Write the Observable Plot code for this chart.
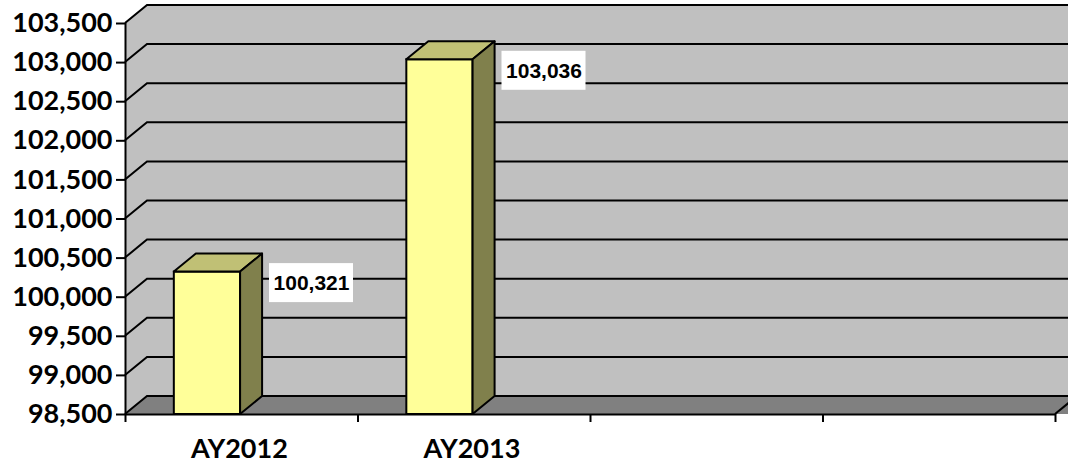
<!DOCTYPE html>
<html><head><meta charset="utf-8">
<script src="https://cdn.jsdelivr.net/npm/d3@7"></script>
<script src="https://cdn.jsdelivr.net/npm/@observablehq/plot@0.6"></script>
<style>
html,body{margin:0;padding:0;background:#fff;overflow:hidden;}
</style></head><body><div id="chart"></div>
<script>
// ---- data ----
const categories = ["AY2012", "AY2013"];
const values = [100321, 103036];
const valueLabels = ["100,321", "103,036"];
const slotTicks = [0, 1, 2, 3, 4];
const yTicks = [98500, 99000, 99500, 100000, 100500, 101000, 101500, 102000, 102500, 103000, 103500];

// ---- styling / geometry ----
const W = 1068, H = 463;
const DX = 22, DY = -18;           // depth offset of the 3D projection (px)
const yMin = 98500, yMax = 103500;
const wallFill = "#c0c0c0", floorFill = "#808080";
const barFront = "#ffff99", barTop = "#c0c075", barSide = "#80804c";
const lw = 2;

const bars = categories.map((c, i) => ({category: c, slot: i, value: values[i], label: valueLabels[i]}));

function shape(draw) {
  return (index, scales, values, dims, context) => {
    const g = d3.create("svg:g");
    draw(g, scales.x, scales.y);
    return g.node();
  };
}
const poly = (pts) => "M" + pts.map(p => p.join(",")).join("L") + "Z";
const path = (pts) => "M" + pts.map(p => p.join(",")).join("L");

const chart = Plot.plot({
  width: W,
  height: H,
  marginLeft: 125,
  marginRight: 13,
  marginTop: 23,
  marginBottom: 49,
  x: {type: "linear", domain: [0, 4]},
  y: {domain: [yMin, yMax]},
  style: {background: "white", color: "black"},
  marks: [
    // walls, floor and gridlines (3D frame)
    shape((g, x, y) => {
      const x0 = x(0), x4 = x(4), yt = y(yMax), yb = y(yMin);
      g.append("path").attr("d", poly([[x0 + DX, yt + DY], [x4 + DX + 20, yt + DY], [x4 + DX + 20, yb + DY], [x0 + DX, yb + DY]]))
        .attr("fill", wallFill);
      g.append("path").attr("d", poly([[x0, yt], [x0 + DX, yt + DY], [x0 + DX, yb + DY], [x0, yb]]))
        .attr("fill", wallFill);
      for (const t of yTicks) {
        if (t === yMin) continue;
        g.append("path").attr("d", path([[x0, y(t)], [x0 + DX, y(t) + DY], [x4 + DX + 20, y(t) + DY]]))
          .attr("fill", "none").attr("stroke", "black").attr("stroke-width", lw);
      }
      g.append("path").attr("d", poly([[x0, yb], [x0 + DX, yb + DY], [x4 + DX + 20, yb + DY], [x4 + 20, yb]]))
        .attr("fill", floorFill);
      g.append("path").attr("d", path([[x0, yb], [x0 + DX, yb + DY], [x4 + DX + 20, yb + DY]]))
        .attr("fill", "none").attr("stroke", "black").attr("stroke-width", lw);
      g.append("path").attr("d", path([[x4, yb], [x4 + DX, yb + DY]]))
        .attr("fill", "none").attr("stroke", "black").attr("stroke-width", lw);
    }),
    // front axis lines
    Plot.ruleX([0], {y1: yMin, y2: yMax, stroke: "black", strokeWidth: lw}),
    Plot.ruleY([yMin], {x1: 0, x2: 4, stroke: "black", strokeWidth: lw}),
    Plot.axisY(yTicks, {
      tickSize: 9, tickPadding: 4, strokeWidth: lw, label: null,
      tickFormat: d3.format(","),
      fontSize: 27, fontWeight: "bold", fontFamily: "Lato"
    }),
    Plot.axisX(slotTicks, {tickSize: 8, strokeWidth: lw, label: null, tickFormat: () => ""}),
    // bars: front faces
    Plot.rect(bars, {
      x1: d => d.slot + 0.21, x2: d => d.slot + 0.495,
      y1: () => yMin, y2: "value",
      fill: barFront, stroke: "black", strokeWidth: lw
    }),
    // bars: top and side faces
    shape((g, x, y) => {
      for (const d of bars) {
        const xl = x(d.slot + 0.21), xr = x(d.slot + 0.495), yt = y(d.value), yb = y(yMin);
        g.append("path").attr("d", poly([[xl, yt], [xl + DX, yt + DY], [xr + DX, yt + DY], [xr, yt]]))
          .attr("fill", barTop).attr("stroke", "black").attr("stroke-width", lw).attr("stroke-linejoin", "round");
        g.append("path").attr("d", poly([[xr, yt], [xr + DX, yt + DY], [xr + DX, yb + DY], [xr, yb]]))
          .attr("fill", barSide).attr("stroke", "black").attr("stroke-width", lw).attr("stroke-linejoin", "round");
      }
    }),
    // value label boxes
    shape((g, x, y) => {
      for (const d of bars) {
        const cx = x(d.slot + 0.8), cy = y(d.value) + 11;
        g.append("rect").attr("x", cx - 42).attr("y", cy - 19.5).attr("width", 84).attr("height", 39)
          .attr("fill", "white");
      }
    }),
    Plot.text(bars, {
      x: d => d.slot + 0.8, y: "value", dy: 11, text: "label",
      fontSize: 21, fontWeight: "bold", fontFamily: "Liberation Sans, Arial", fill: "black"
    }),
    // category labels
    Plot.text(bars, {
      x: d => d.slot + 0.49, y: () => yMin, dy: 35, text: "category",
      fontSize: 27, fontWeight: "bold", fontFamily: "Lato", fill: "black"
    })
  ]
});
document.getElementById("chart").appendChild(chart);
</script>
</body></html>
